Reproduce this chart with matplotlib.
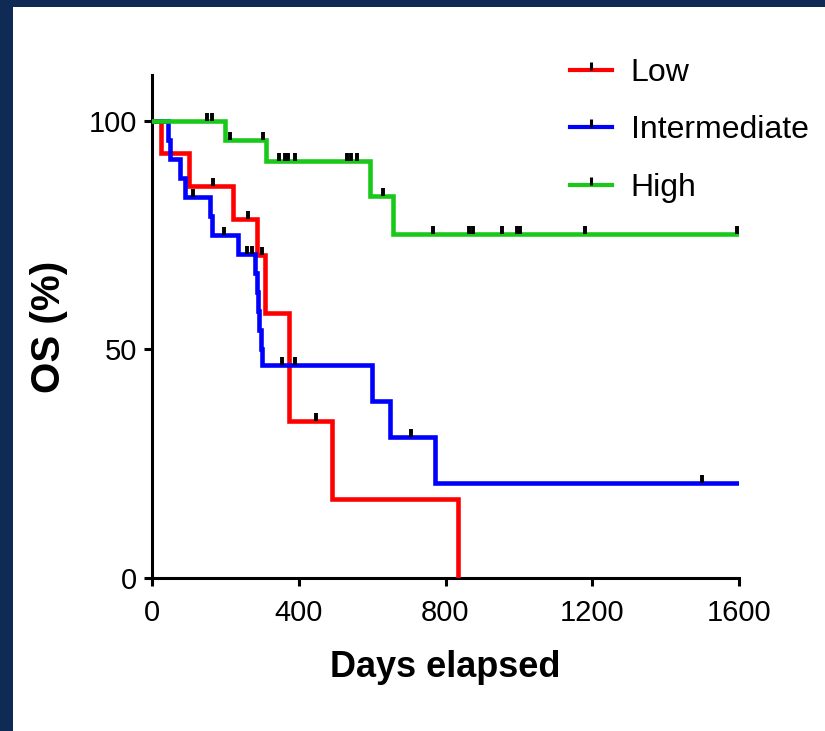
import numpy as np
import matplotlib
matplotlib.use('Agg')
import matplotlib.pyplot as plt
from matplotlib.lines import Line2D
from matplotlib.patches import Rectangle

# ===================== DATA =====================
groups = ['Low', 'Intermediate', 'High']

# step times (days) and survival (%) after each step
low_t = [0, 24, 102, 220, 285, 308, 373, 491, 834]
low_s = [100, 92.9, 85.7, 78.6, 70.7, 57.9, 34.4, 17.2, 0]
low_end = 834
low_cens = [165, 261, 300, 446]

mid_t = [0, 44, 50, 76, 90, 158, 163, 235, 281, 285, 289, 293, 297, 300, 600, 649, 771]
mid_s = [100, 95.8, 91.7, 87.5, 83.3, 79.2, 75.0, 70.8, 66.7, 62.5, 58.3, 54.2, 50.0, 46.5, 38.7, 30.8, 20.8]
mid_end = 1595
mid_cens = [113, 197, 258, 272, 355, 390, 705, 1500]

high_t = [0, 199, 312, 594, 658]
high_s = [100, 95.8, 91.3, 83.6, 75.2]
high_end = 1595
high_cens = [149, 163, 213, 302, 347, 362, 372, 390, 531, 542, 558, 629,
             765, 864, 875, 954, 994, 1003, 1180, 1595]

x_ticks = [0, 400, 800, 1200, 1600]
y_ticks = [0, 50, 100]

colors = ['#ff0000', '#0000ff', '#19c819']
navy = '#0f2b55'

plt.rcParams['font.family'] = ['Liberation Sans', 'DejaVu Sans']

# ===================== FIGURE =====================
fig = plt.figure(figsize=(8.25, 7.31), dpi=100, facecolor=navy)
fig.patches.append(Rectangle((13 / 825, 0), 1, 1 - 7 / 731, transform=fig.transFigure,
                             facecolor='white', edgecolor='none', zorder=-5))

ax = fig.add_axes([152 / 825, 153 / 731, 587 / 825, 503 / 731])
ax.set_facecolor('none')
ax.set_zorder(2)

# censor tick: short vertical stroke above the point
cens_marker = [(0, 0), (0, 1)]

series = [(low_t, low_s, low_end, low_cens),
          (mid_t, mid_s, mid_end, mid_cens),
          (high_t, high_s, high_end, high_cens)]

for (t, s, t_end, cens), col, name in zip(series, colors, groups):
    tt = np.array(t + [t_end], dtype=float)
    ss = np.array(s + [s[-1]], dtype=float)
    ax.step(tt, ss, where='post', color=col, lw=3.3, zorder=3, solid_joinstyle='miter')
    idx = np.searchsorted(tt[:-1], np.array(cens), side='right') - 1
    ax.plot(cens, ss[idx], ls='none', marker=cens_marker, ms=12, mew=2.8,
            mec='black', mfc='black', zorder=4)

ax.set_xlim(0, 1600)
ax.set_ylim(0, 110)
ax.set_xticks(x_ticks)
ax.set_yticks(y_ticks)

for side in ['top', 'right']:
    ax.spines[side].set_visible(False)
for side in ['left', 'bottom']:
    ax.spines[side].set_linewidth(2.2)

ax.tick_params(axis='both', direction='out', length=6, width=2.2, labelsize=21)
ax.tick_params(axis='x', pad=9)
ax.tick_params(axis='y', pad=5)

ax.set_xlabel('Days elapsed', fontsize=26, fontweight='bold', labelpad=17)
ax.set_ylabel('OS (%)', fontsize=29, fontweight='bold', labelpad=15)

# legend
handles = [Line2D([0], [0], color=c, lw=3, marker=cens_marker, ms=11, mew=2.2,
                  mec='black', mfc='black') for c in colors]
fig.legend(handles, groups, loc='upper left', bbox_to_anchor=(570 / 825, 1 - 58 / 731),
           frameon=False, fontsize=23, handlelength=1.3, handletextpad=0.6,
           labelspacing=0.86, borderpad=0, borderaxespad=0, numpoints=1)

fig.savefig('out.png', dpi=100, facecolor=fig.get_facecolor())
